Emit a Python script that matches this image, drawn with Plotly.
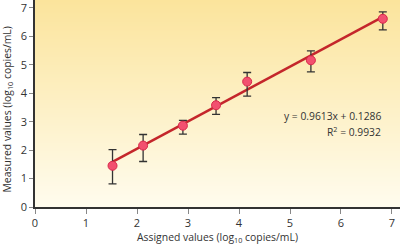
import plotly.graph_objects as go

assigned = [1.52, 2.12, 2.90, 3.55, 4.16, 5.41, 6.82]
measured = [1.45, 2.16, 2.86, 3.58, 4.41, 5.16, 6.62]
err_plus = [0.57, 0.39, 0.19, 0.27, 0.32, 0.33, 0.24]
err_minus = [0.64, 0.56, 0.30, 0.32, 0.51, 0.41, 0.39]
slope = 0.9613
intercept = 0.1286
eq_text = "y = 0.9613x + 0.1286"
r2_text = "R<sup>2</sup> = 0.9932"
x_title = "Assigned values (log<sub>10</sub> copies/mL)"
y_title = "Measured values (log<sub>10</sub> copies/mL)"
x_ticks = [0, 1, 2, 3, 4, 5, 6, 7]
y_ticks = [0, 1, 2, 3, 4, 5, 6, 7]

XMAX = 7.157
YMAX = 7.28

fig = go.Figure()

# gradient background
fig.add_trace(go.Heatmap(
    x=[0, XMAX], y=[0, YMAX], z=[[0, 0], [1, 1]],
    colorscale=[[0, "#fffcee"], [1, "#fbe49c"]],
    showscale=False, zsmooth="best", hoverinfo="skip",
))

fit_x = [assigned[0], assigned[-1]]
fit_y = [slope * v + intercept for v in fit_x]
fig.add_trace(go.Scatter(
    x=fit_x, y=fit_y, mode="lines",
    line=dict(color="#c4262b", width=2.5), hoverinfo="skip",
))

fig.add_trace(go.Scatter(
    x=assigned, y=measured, mode="markers",
    marker=dict(color="#f2506f", size=9, line=dict(color="#d8284a", width=1)),
    error_y=dict(type="data", symmetric=False, array=err_plus, arrayminus=err_minus,
                 color="#333333", thickness=1.3, width=4),
))

fig.add_annotation(x=6.82, y=3.2, xref="x", yref="y", text=eq_text,
                   showarrow=False, xanchor="right", yanchor="middle",
                   font=dict(size=10.3, color="#333333"))
fig.add_annotation(x=6.82, y=2.67, xref="x", yref="y", text=r2_text,
                   showarrow=False, xanchor="right", yanchor="middle",
                   font=dict(size=10.3, color="#333333"))
fig.add_annotation(x=-0.0745, y=0.47, xref="paper", yref="paper", text=y_title,
                   showarrow=False, textangle=-90, xanchor="center", yanchor="middle",
                   font=dict(size=10.4, color="#333333"))

fig.update_layout(
    width=400, height=245,
    margin=dict(l=35, r=0, t=0, b=38, autoexpand=False),
    paper_bgcolor="white", plot_bgcolor="white",
    showlegend=False,
    font=dict(family="Open Sans, Noto Sans, sans-serif", size=11, color="#333333"),
)
fig.update_xaxes(
    range=[0, XMAX], tickvals=x_ticks, showgrid=False, zeroline=False,
    showline=True, linecolor="#333333", linewidth=1.5, automargin=False,
    ticks="outside", ticklen=5, tickcolor="#888888", ticklabeloverflow="allow",
    title=dict(text=x_title, standoff=4, font=dict(size=10.4)),
    tickfont=dict(size=11),
)
fig.update_yaxes(
    range=[0, YMAX], tickvals=y_ticks, showgrid=True, gridcolor="#e2cf9f",
    gridwidth=1, zeroline=False, automargin=False,
    showline=True, linecolor="#333333", linewidth=1.5,
    ticks="outside", ticklen=4, tickcolor="#888888", ticklabeloverflow="allow",
    tickfont=dict(size=11),
)

fig.write_html("out.html", config={"displayModeBar": False},
               post_script="document.body.style.margin='0';document.body.style.overflow='hidden';")
